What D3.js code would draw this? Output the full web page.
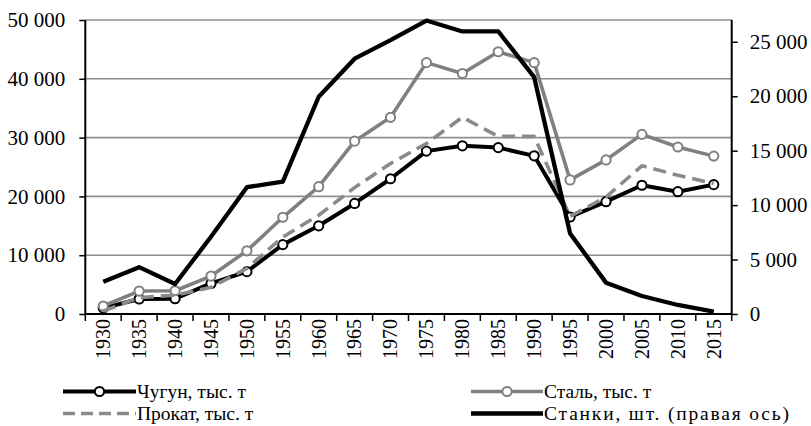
<!DOCTYPE html>
<html><head><meta charset="utf-8">
<script src="https://cdn.jsdelivr.net/npm/d3@7"></script>
<style>
html,body{margin:0;padding:0;background:#fff;}
svg{display:block;}
svg text{font-family:"Liberation Serif","Times New Roman",Tinos,serif !important;}
</style></head>
<body><svg id="c" width="811" height="426"></svg>
<script>
const years = ["1930","1935","1940","1945","1950","1955","1960","1965","1970","1975","1980","1985","1990","1995","2000","2005","2010","2015"];
const chugun = [1000,2550,2600,5200,7200,11800,15000,18800,23000,27700,28600,28300,26900,16500,19100,21900,20800,22000];
const stal   = [1360,3900,3950,6450,10750,16450,21650,29400,33450,42750,40900,44600,42750,22800,26200,30550,28400,26850];
const prokat = [500,2800,3200,4550,7750,13100,16800,21500,25600,29000,33450,30200,30200,16600,19900,25200,23600,22200];
const stanki = [2970,4300,2750,7100,11650,12150,19950,23450,25150,26950,25950,25950,21750,7400,2880,1650,830,210];
const leftTicks = [0,10000,20000,30000,40000,50000];
const rightTicks = [0,5000,10000,15000,20000,25000];
const seriesNames = ["Чугун, тыс. т","Сталь, тыс. т","Прокат, тыс. т","Станки, шт. (правая ось)"];

const svg = d3.select("#c");
const L = 85.3, R = 731.7, T = 20, B = 314;
const fsAxis = 21, fsYear = 20, fsLeg = 19.5;
const loc = d3.formatLocale({decimal:",", thousands:"\u00a0", grouping:[3], currency:["",""]});
const fmt = loc.format(",d");

const x = d3.scaleBand().domain(years).range([L, R]).padding(0);
const xc = d => x(d) + x.bandwidth()/2;
const yL = d3.scaleLinear().domain([0,50000]).range([B,T]);
const yR = d3.scaleLinear().domain([0,27000]).range([B,T]);

svg.append("g").selectAll("line").data(leftTicks.filter(v=>v>0)).join("line")
  .attr("x1", L).attr("x2", R).attr("y1", d=>yL(d)).attr("y2", d=>yL(d))
  .attr("stroke", "#8e8e8e").attr("stroke-width", 1.6);

const gl = svg.append("g").attr("transform", `translate(${L},0)`)
  .call(d3.axisLeft(yL).tickValues(leftTicks).tickFormat(fmt).tickSize(6).tickPadding(14));
const gr = svg.append("g").attr("transform", `translate(${R},0)`)
  .call(d3.axisRight(yR).tickValues(rightTicks).tickFormat(fmt).tickSize(6).tickPadding(12));
[gl, gr].forEach(g => {
  g.attr("font-family", null).attr("font-size", null);
  g.select(".domain").remove();
  g.selectAll(".tick line").attr("stroke", "#000").attr("stroke-width", 1.5);
  g.selectAll("text").style("font-size", fsAxis + "px").attr("fill", "#000");
});
svg.append("line").attr("x1", L).attr("x2", L).attr("y1", T).attr("y2", B).attr("stroke", "#000").attr("stroke-width", 2);
svg.append("line").attr("x1", R).attr("x2", R).attr("y1", T).attr("y2", B).attr("stroke", "#000").attr("stroke-width", 2);

const gx = svg.append("g").attr("transform", `translate(0,${B})`)
  .call(d3.axisBottom(x).tickSize(0).tickPadding(0));
gx.attr("font-family", null).attr("font-size", null);
gx.select(".domain").remove();
gx.selectAll(".tick text")
  .style("font-size", fsYear + "px").attr("fill", "#000")
  .attr("text-anchor", "end").attr("transform", "rotate(-90)")
  .attr("x", -5).attr("y", 0).attr("dy", "0.34em");
const bounds = years.map(d => x(d)).concat([R]);
svg.append("g").selectAll("line").data(bounds).join("line")
  .attr("x1", d=>d).attr("x2", d=>d).attr("y1", B).attr("y2", B+7)
  .attr("stroke", "#000").attr("stroke-width", 1.5);
svg.append("line").attr("x1", L).attr("x2", R).attr("y1", B).attr("y2", B).attr("stroke", "#000").attr("stroke-width", 2);

const lineL = d3.line().x((d,i)=>xc(years[i])).y(d=>yL(d));
const lineR = d3.line().x((d,i)=>xc(years[i])).y(d=>yR(d));

function drawSeries(data, line, color, width, dash, markers, mstroke) {
  const g = svg.append("g");
  g.append("path").datum(data).attr("d", line).attr("fill", "none")
    .attr("stroke", color).attr("stroke-width", width)
    .attr("stroke-dasharray", dash || null).attr("stroke-linejoin", "round");
  if (markers) {
    g.selectAll("circle").data(data).join("circle")
      .attr("cx", (d,i)=>xc(years[i])).attr("cy", d=>line.y()(d))
      .attr("r", 4.6).attr("fill", "#fff").attr("stroke", mstroke).attr("stroke-width", 2);
  }
}
drawSeries(chugun, lineL, "#000", 4, null, true, "#000");
drawSeries(stal, lineL, "#808080", 3.6, null, true, "#808080");
drawSeries(prokat, lineL, "#8a8a8a", 3.6, "13,7", false);
drawSeries(stanki, lineR, "#000", 4.3, null, false);

const leg = [
  {name: seriesNames[0], x0: 63, x1: 136, y: 391.5, color: "#000", w: 4, dash: null, m: true, len: null},
  {name: seriesNames[1], x0: 471, x1: 543, y: 391.5, color: "#808080", w: 3.6, dash: null, m: true, len: null},
  {name: seriesNames[2], x0: 63, x1: 136, y: 413.5, color: "#8a8a8a", w: 3.6, dash: "12,6", m: false, len: null},
  {name: seriesNames[3], x0: 471, x1: 543, y: 413.5, color: "#000", w: 4.3, dash: null, m: false, len: 245}
];
const lg = svg.append("g").selectAll("g").data(leg).join("g");
lg.append("line").attr("x1", d=>d.x0).attr("x2", d=>d.x1).attr("y1", d=>d.y).attr("y2", d=>d.y)
  .attr("stroke", d=>d.color).attr("stroke-width", d=>d.w).attr("stroke-dasharray", d=>d.dash);
lg.filter(d=>d.m).append("circle").attr("cx", d=>(d.x0+d.x1)/2).attr("cy", d=>d.y).attr("r", 4.6)
  .attr("fill", "#fff").attr("stroke", d=>d.color).attr("stroke-width", 2);
lg.append("text").attr("x", d=>d.x1+1).attr("y", d=>d.y).attr("dy", "0.33em")
  .style("font-size", fsLeg + "px").attr("fill", "#000")
  .attr("textLength", d=>d.len).attr("lengthAdjust", "spacing")
  .text(d=>d.name);
</script></body></html>
